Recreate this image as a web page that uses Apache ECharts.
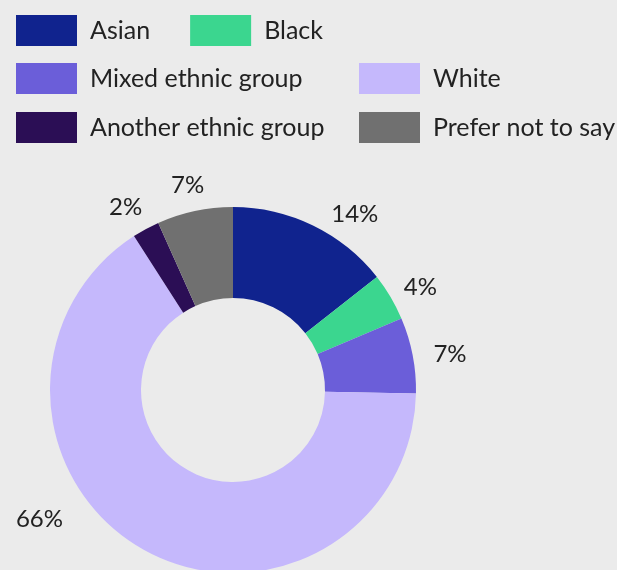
<!DOCTYPE html>
<html><head><meta charset="utf-8">
<script src="https://cdn.jsdelivr.net/npm/echarts@6/dist/echarts.min.js"></script>
<style>html,body{margin:0;padding:0;background:#ebebeb;}#c{width:617px;height:570px;}</style>
</head><body><div id="c"></div>
<script>
const categories = ["Asian","Black","Mixed ethnic group","White","Another ethnic group","Prefer not to say"];
const values = [14.4,4.2,6.7,65.6,2.4,6.7];
const colors = ["#10238e","#3bd68f","#6b5ed9","#c5b8fc","#2b0e55","#707070"];
// label placement tweaks (layout only)
const labelShift = [[0,0],[-10,-3],[-4,1],[-62,-41],[15,-11],[25,-14]];
const FONT = "Lato";
const chart = echarts.init(document.getElementById('c'));
const legendBase = {
  itemWidth: 61, itemHeight: 31, icon: 'rect',
  textStyle: {fontFamily: FONT, fontSize: 25, color: '#222', padding: [0,0,0,8]},
  padding: 0
};
chart.setOption({
  backgroundColor: '#ebebeb',
  color: colors,
  textStyle: {fontFamily: FONT},
  legend: [
    Object.assign({}, legendBase, {data: [categories[0], categories[1]], left: 16, top: 15, orient: 'horizontal', itemGap: 40}),
    Object.assign({}, legendBase, {data: [categories[2], categories[4]], left: 16, top: 63, orient: 'vertical', itemGap: 18}),
    Object.assign({}, legendBase, {data: [categories[3], categories[5]], left: 359, top: 63, orient: 'vertical', itemGap: 18})
  ],
  series: [{
    type: 'pie',
    center: [233, 390],
    radius: [92, 183],
    startAngle: 90,
    clockwise: true,
    avoidLabelOverlap: false,
    data: categories.map((c, i) => ({name: c, value: values[i]})),
    label: {show: true, position: 'outside', formatter: p => Math.round(p.value) + '%', fontFamily: FONT, fontSize: 24, color: '#222'},
    labelLine: {show: false, length: 12, length2: 8},
    labelLayout: p => ({dx: labelShift[p.dataIndex][0], dy: labelShift[p.dataIndex][1]}),
    emphasis: {disabled: true}
  }]
});
</script></body></html>
